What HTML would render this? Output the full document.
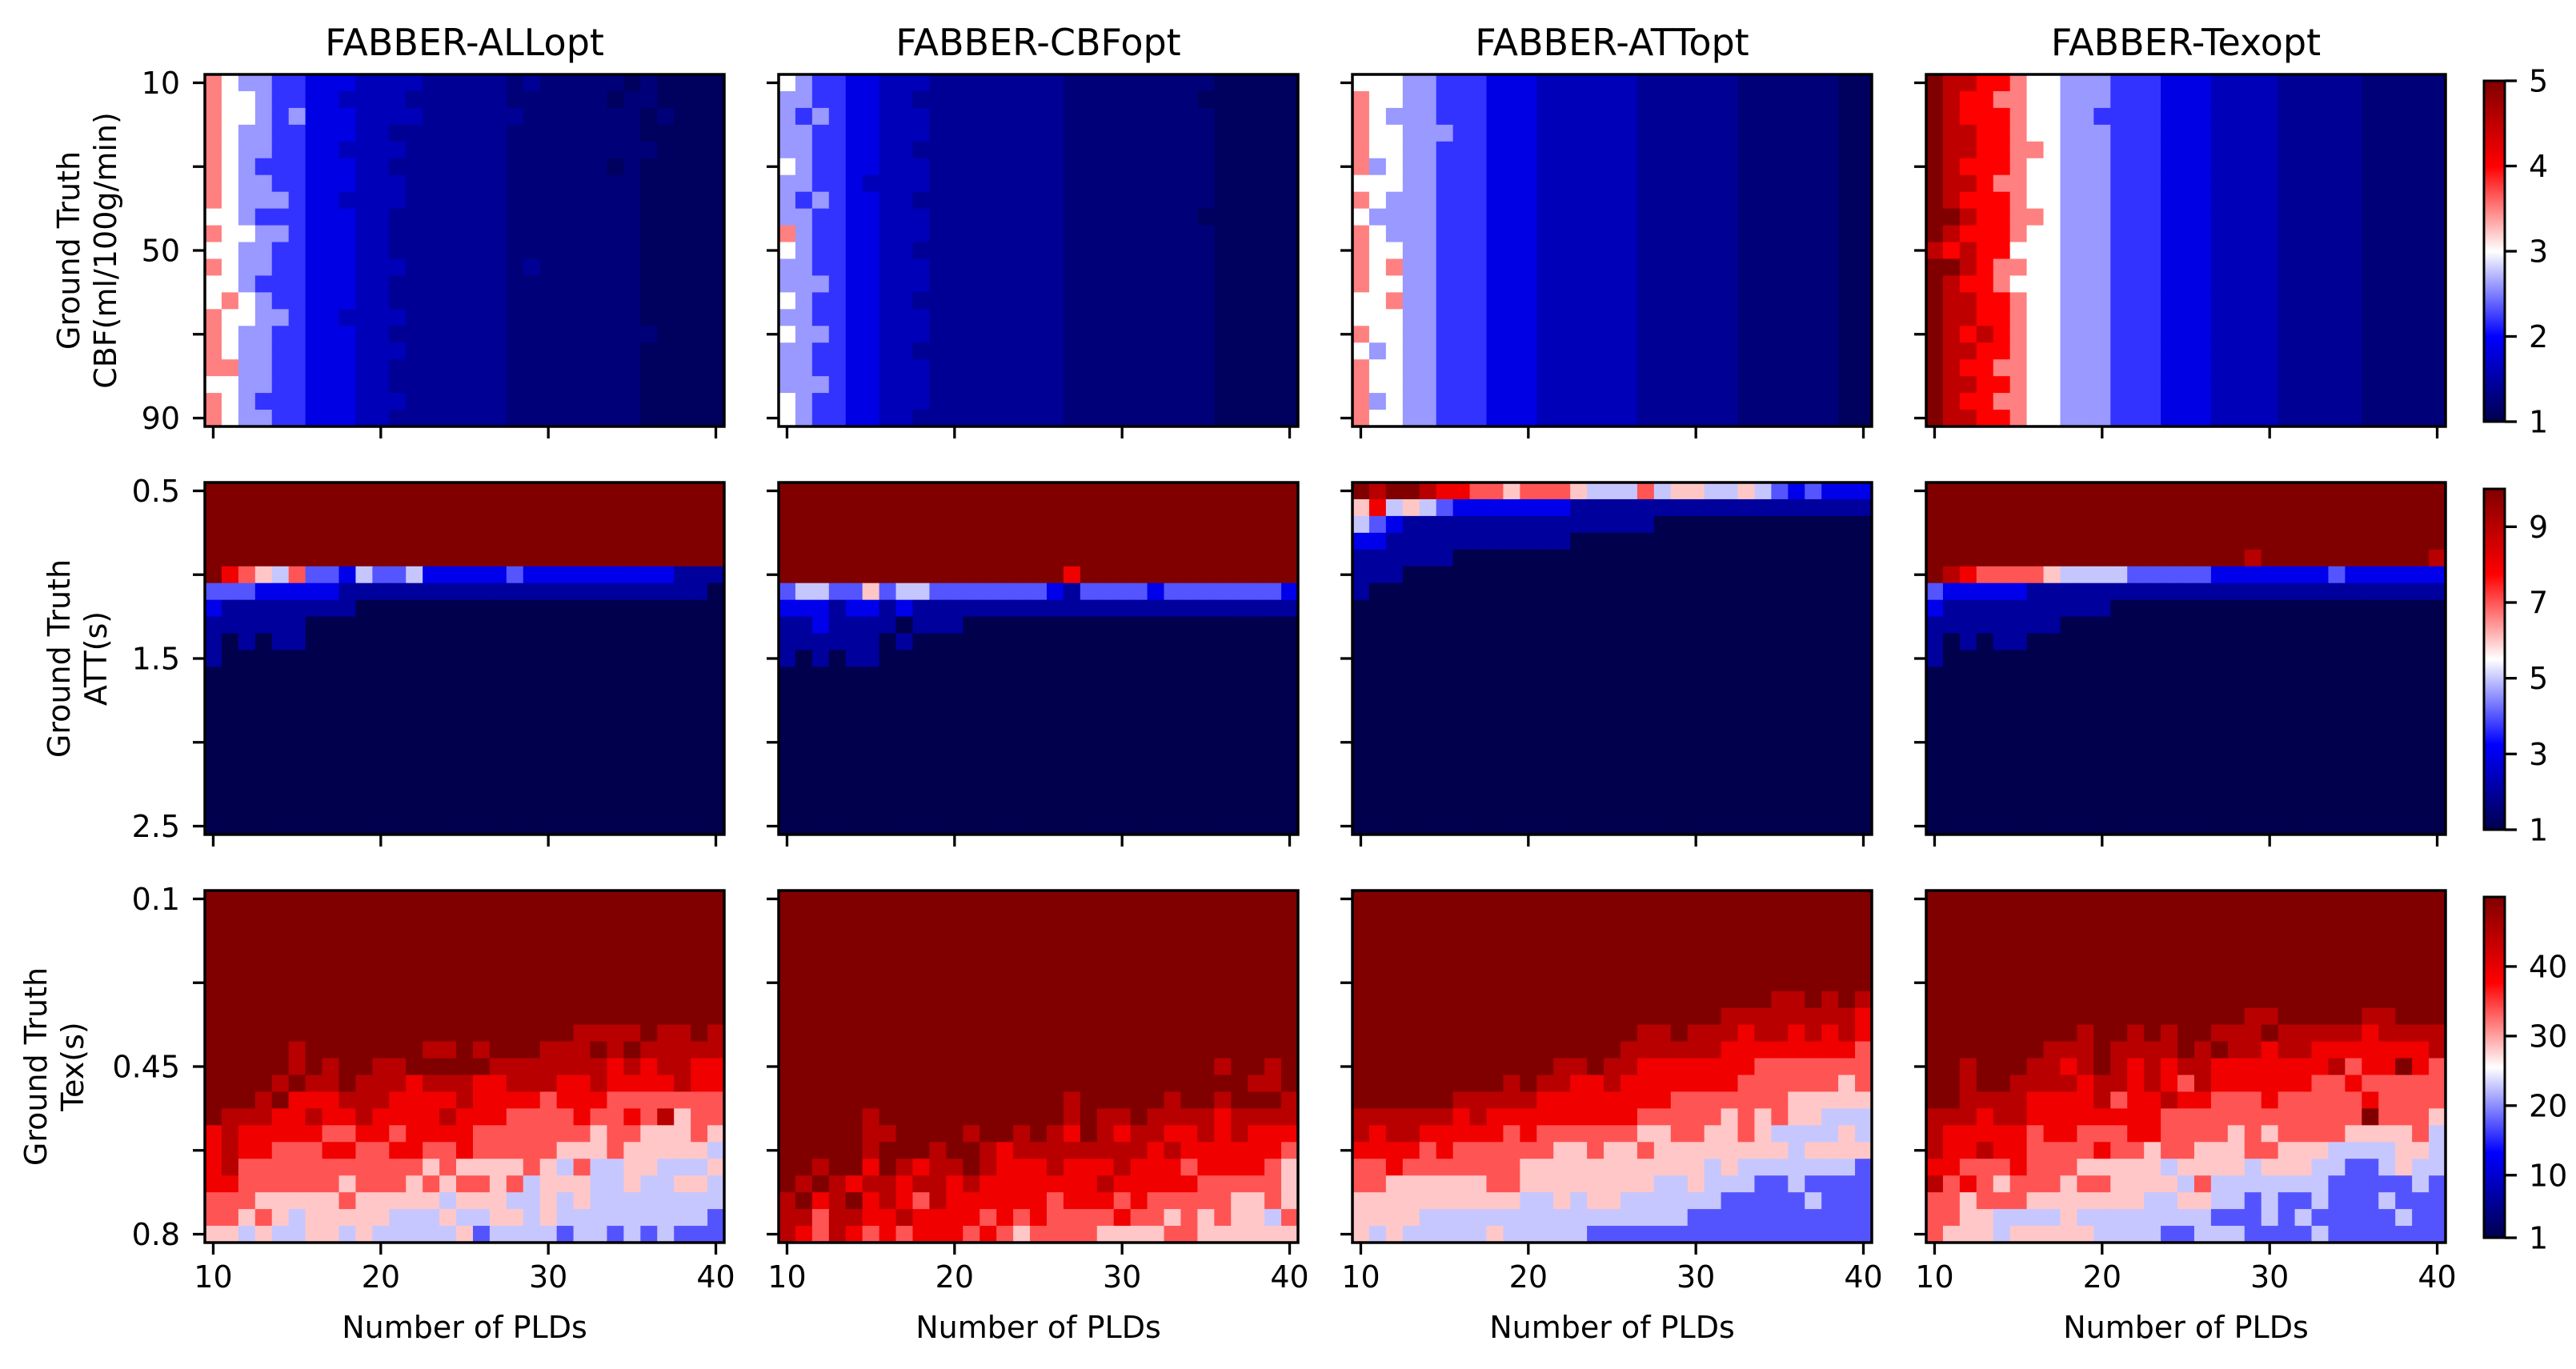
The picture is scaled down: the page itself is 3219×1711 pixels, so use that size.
<!DOCTYPE html>
<html><head><meta charset="utf-8">
<style>
html,body{margin:0;padding:0;background:#fff;}
svg{display:block;}
text{font-family:"DejaVu Sans","Liberation Sans",sans-serif;fill:#000;}
</style></head>
<body>
<svg id="fig" xmlns="http://www.w3.org/2000/svg" width="3219" height="1711" viewBox="0 0 3219 1711">
<defs>
<linearGradient id="seis" x1="0" y1="1" x2="0" y2="0">
<stop offset="0" stop-color="rgb(0,0,77)"/>
<stop offset="0.25" stop-color="rgb(0,0,255)"/>
<stop offset="0.5" stop-color="rgb(255,255,255)"/>
<stop offset="0.75" stop-color="rgb(255,0,0)"/>
<stop offset="1" stop-color="rgb(128,0,0)"/>
</linearGradient>
</defs>
<rect x="0" y="0" width="3219" height="1711" fill="#fff"/>
</svg>
<script>
// ---- data: each character is a code (base-36) into the row's level array ----
const pldValues = [10,11,12,13,14,15,16,17,18,19,20,21,22,23,24,25,26,27,28,29,30,31,32,33,34,35,36,37,38,39,40];
const xTicks = [10,20,30,40];
const methodNames = ["FABBER-ALLopt","FABBER-CBFopt","FABBER-ATTopt","FABBER-Texopt"];
const cbfRange = [1,5];
const attRange = [1,10];
const texRange = [1,50];
const cbfLevels = [1.1,1.25,1.4,1.6,1.85,2.2,2.6,3.0,3.5,4.0,4.5,5.0];
const attLevels = [1,2,3,4,5,6,7,8,9,10];
const texLevels = [1,6.4,11.9,17.3,22.8,28.2,33.7,39.1,44.6,50];
const cbfYTicks = [10,30,50,70,90];
const cbfYLabels = ["10","","50","","90"];
const attYTicks = [0.5,1.0,1.5,2.0,2.5];
const attYLabels = ["0.5","","1.5","","2.5"];
const texYTicks = [0.1,0.275,0.45,0.625,0.8];
const texYLabels = ["0.1","","0.45","","0.8"];
const cbfCbTicks = [1,2,3,4,5];
const attCbTicks = [1,3,5,7,9];
const texCbTicks = [1,10,20,30,40];

const cbfAll = [
"8766554443333222221211111010000","8776554433332222221111110110000","8776564443333222222111111101000",
"8766554443322222221111111100000","8766554433332222221111111110000","8765554443322222221111110100000",
"8766554443332222221111111100000","8766654433332222221111111100000","7765554443322222221111111100000",
"8776654443322222221111111100000","7766554443322222221111111100000","8766554443332222221211111100000",
"7765554443322222221111111100000","7876554443322222221111111100000","8776654433332222221111111100000",
"8766554443322222221111111110000","8766554443332222221111111100000","8866554443322222221111111100000",
"7766554443322222221111111100000","8765554443332222221111111100000","8766554443322222221111111100000"];
const cbfCbf = [
"7655443332222222211111111100000","6655443322222222211111111000000","6565443332222222211111111100000",
"6655443332222222211111111100000","6655443322222222211111111100000","7655443332222222211111111100000",
"6655433332222222211111111100000","6565443322222222211111111100000","6655443332222222211111111000000",
"8655443332222222211111111100000","7655443322222222211111111100000","6655443332222222211111111100000",
"6665443332222222211111111100000","7655443322222222211111111100000","6655443332222222211111111100000",
"7665443332222222211111111100000","6655443322222222211111111100000","6655443332222222211111111100000",
"6665443332222222211111111100000","7655443332222222211111111100000","7655443322222222211111111100000"];
const cbfAtt = [
"7776655544433333322222211111100","8776655544433333322222211111100","8766655544433333322222211111100",
"8776665544433333322222211111100","8776655544433333322222211111100","8676655544433333322222211111100",
"7776655544433333322222211111100","8766655544433333322222211111100","7666655544433333322222211111100",
"8766655544433333322222211111100","8776655544433333322222211111100","8786655544433333322222211111100",
"8776655544433333322222211111100","7786655544433333322222211111100","7776655544433333322222211111100",
"8776655544433333322222211111100","7676655544433333322222211111100","8776655544433333322222211111100",
"8776655544433333322222211111100","8676655544433333322222211111100","8776655544433333322222211111100"];
const cbfTex = [
"baa9987766655544433332222211111","ba99887766655544433332222211111","ba99987766555544433332222211111",
"baa9987766655544433332222211111","baa9988766655544433332222211111","ba99987766655544433332222211111",
"baa9887766655544433332222211111","ba99987766655544433332222211111","bba9988766655544433332222211111",
"ba99987766655544433332222211111","a9a9977766655544433332222211111","bba9887766655544433332222211111",
"ba99877766655544433332222211111","baa9987766655544433332222211111","baa9987766655544433332222211111",
"ba9a987766655544433332222211111","baa9987766655544433332222211111","ba99887766655544433332222211111",
"baa9987766655544433332222211111","ba99887766655544433332222211111","baa9987766655544433332222211111"];

const attAll = [
"9999999999999999999999999999999","9999999999999999999999999999999","9999999999999999999999999999999",
"9999999999999999999999999999999","9999999999999999999999999999999","9765463324334222223222222222111",
"3332222211111111111111111111110","2111111110000000000000000000000","1111110000000000000000000000000",
"1010110000000000000000000000000","1000000000000000000000000000000","0000000000000000000000000000000",
"0000000000000000000000000000000","0000000000000000000000000000000","0000000000000000000000000000000",
"0000000000000000000000000000000","0000000000000000000000000000000","0000000000000000000000000000000",
"0000000000000000000000000000000","0000000000000000000000000000000","0000000000000000000000000000000"];
const attCbf = [
"9999999999999999999999999999999","9999999999999999999999999999999","9999999999999999999999999999999",
"9999999999999999999999999999999","9999999999999999999999999999999","9999999999999999979999999999999",
"3443353443333333213333233333332","2221221211111111111111111111111","1121111011100000000000000000000",
"1111110100000000000000000000000","1010110000000000000000000000000","0000000000000000000000000000000",
"0000000000000000000000000000000","0000000000000000000000000000000","0000000000000000000000000000000",
"0000000000000000000000000000000","0000000000000000000000000000000","0000000000000000000000000000000",
"0000000000000000000000000000000","0000000000000000000000000000000","0000000000000000000000000000000"];
const attAtt = [
"9899877665666544464554454323222","5745432222222111111111111111111","4321111111111111110000000000000",
"2211111111111000000000000000000","1111110000000000000000000000000","1110000000000000000000000000000",
"1000000000000000000000000000000","0000000000000000000000000000000","0000000000000000000000000000000",
"0000000000000000000000000000000","0000000000000000000000000000000","0000000000000000000000000000000",
"0000000000000000000000000000000","0000000000000000000000000000000","0000000000000000000000000000000",
"0000000000000000000000000000000","0000000000000000000000000000000","0000000000000000000000000000000",
"0000000000000000000000000000000","0000000000000000000000000000000","0000000000000000000000000000000"];
const attTex = [
"9999999999999999999999999999999","9999999999999999999999999999999","9999999999999999999999999999999",
"9999999999999999999999999999999","9999999999999999999899999999998","9876666544443333322222223222222",
"3222221111111111111111111111111","2111111111100000000000000000000","1111111100000000000000000000000",
"1010110000000000000000000000000","1000000000000000000000000000000","0000000000000000000000000000000",
"0000000000000000000000000000000","0000000000000000000000000000000","0000000000000000000000000000000",
"0000000000000000000000000000000","0000000000000000000000000000000","0000000000000000000000000000000",
"0000000000000000000000000000000","0000000000000000000000000000000","0000000000000000000000000000000"];

const texAll = [
"9999999999999999999999999999999","9999999999999999999999999999999","9999999999999999999999999999999",
"9999999999999999999999999999999","9999999999999999999999999999999","9999999999999999999999999999999",
"9999999999999999999999999999999","9999999999999999999999999999999","9999999999999999999999888898898",
"9999989999999889899988898988888","9999989899889999988888887878877","9999898898887888778887787777877",
"9998977788877778777767776666666","9888778778777787776666766768566","7877777667767777666666656655565",
"7877666776677667666665556555554","7866666666666565555654644554445","7766666656665656656455544544554",
"6665555565555545554454544444444","6656545555544454455454444444443","5545445545444445344443443434333"];
const texCbf = [
"9999999999999999999999999999999","9999999999999999999999999999999","9999999999999999999999999999999",
"9999999999999999999999999999999","9999999999999999999999999999999","9999999999999999999999999999999",
"9999999999999999999999999999999","9999999999999999999999999999999","9999999999999999999999999999999",
"9999999999999999999999999999999","9999999999999999999999999989989","9999999999999999999999999999889",
"9999999999999999989999989989998","9999989999999999989889888878888","9999988999989989879878877878777",
"9999989998998788888888787777776","9989979878898777877787776777765","9898788788787777777877777666665",
"8978978768777777677767666665565","8868877877776767666676656565546","8768767677767656666555566555555"];
const texAtt = [
"9999999999999999999999999999999","9999999999999999999999999999999","9999999999999999999999999999999",
"9999999999999999999999999999999","9999999999999999999999999999999","9999999999999999999999999999999",
"9999999999999999999999999889898","9999999999999999999999888888887","9999999999999999988988878878787",
"9999999999999999888888777777776","9999999999998898877777776666666","9999999998988778777777766666656",
"9999998888877777777666666655555","8888887877777777766666565655444","8788777776766666655665565444454",
"7777676666665565565555555545555","6676666666555555555554544444443","6655555566555555554454443343333",
"5555555555445455444444333334333","5555444444444444444433333333333","5454444454444433333333333333333"];
const texTex = [
"9999999999999999999999999999999","9999999999999999999999999999999","9999999999999999999999999999999",
"9999999999999999999999999999999","9999999999999999999999999999999","9999999999999999999999999999999",
"9999999999999999999999999999999","9999999999999999999889999988999","9999999998998989988898888878888",
"9999999888988889898878877777778","9989998878987878877777778677976","9989988887887876877777766766666",
"9988887777867787766676666676666","8887887777777766666666666696665","8777776776667766665656666555564",
"8778776666766566555665554444554","7766676665555545555455544334544","8676566656655554644444443333343",
"6656665555555445544343343334333","6655444454444444433343433333433","6555455555444433444333343333333"];

// ---- layout ----
const SVGNS = "http://www.w3.org/2000/svg";
const svg = document.getElementById("fig");
const panelLefts = [256, 973, 1690, 2407];
const panelTops = [93, 603, 1113];
const PW = 649, PH = 440;
const NC = 31, NR = 21;
const CBX = 3104, CBW = 26, CBH = 426;
const cbTops = [101, 611, 1121];

function seismic(f){
  f = Math.max(0, Math.min(1, f));
  let r,g,b;
  if (f < 0.25){ r=0; g=0; b=0.3+0.7*f/0.25; }
  else if (f < 0.5){ const t=(f-0.25)/0.25; r=t; g=t; b=1; }
  else if (f < 0.75){ const t=(f-0.5)/0.25; r=1; g=1-t; b=1-t; }
  else { const t=(f-0.75)/0.25; r=1-0.5*t; g=0; b=0; }
  return "rgb("+Math.round(r*255)+","+Math.round(g*255)+","+Math.round(b*255)+")";
}
function mk(tag, attrs){
  const e = document.createElementNS(SVGNS, tag);
  for (const k in attrs) e.setAttribute(k, attrs[k]);
  return e;
}
function fixRow(s){ while (s.length < NC) s += s[s.length-1]; return s.slice(0, NC); }

const rowSpecs = [
  {grids:[cbfAll,cbfCbf,cbfAtt,cbfTex], levels:cbfLevels, range:cbfRange, yTicks:cbfYTicks, yLabels:cbfYLabels, y0:10, y1:90, lab2:"CBF(ml/100g/min)", lx1:86, lx2:132, cbTicks:cbfCbTicks, key:"cbf"},
  {grids:[attAll,attCbf,attAtt,attTex], levels:attLevels, range:attRange, yTicks:attYTicks, yLabels:attYLabels, y0:0.5, y1:2.5, lab2:"ATT(s)", lx1:74, lx2:120, cbTicks:attCbTicks, key:"att"},
  {grids:[texAll,texCbf,texAtt,texTex], levels:texLevels, range:texRange, yTicks:texYTicks, yLabels:texYLabels, y0:0.1, y1:0.8, lab2:"Tex(s)", lx1:45, lx2:91, cbTicks:texCbTicks, key:"tex"}
];

const cw = PW / NC, ch = PH / NR;
function xPos(left, pld){ return left + (pld - pldValues[0] + 0.5) * cw; }
function yPos(top, spec, v){ return top + ((v - spec.y0)/(spec.y1 - spec.y0)*(NR-1) + 0.5) * ch; }

rowSpecs.forEach((spec, ri) => {
  const top = panelTops[ri];
  const [vmin, vmax] = spec.range;
  spec.grids.forEach((grid, ci) => {
    const left = panelLefts[ci];
    const g = mk("g", {});
    
    
    svg.appendChild(g);
    grid.forEach((rowStr, r) => {
      const s = fixRow(rowStr);
      for (let c = 0; c < NC; c++){
        const code = Math.min(parseInt(s[c], 36), spec.levels.length - 1);
        const value = spec.levels[code];
        const f = (value - vmin) / (vmax - vmin);
        const rect = mk("rect", {x:(left + c*cw).toFixed(2), y:(top + r*ch).toFixed(2), width:(cw+0.6).toFixed(2), height:(ch+0.6).toFixed(2), fill:seismic(f)});
        
        
        g.appendChild(rect);
      }
    });
    spec.yTicks.forEach((tv, ti) => {
      const y = yPos(top, spec, tv);
      const tk = mk("line", {x1:left-15, x2:left, y1:y, y2:y, stroke:"#000", "stroke-width":3.3});
      
      
      svg.appendChild(tk);
      if (ci === 0 && spec.yLabels[ti]){
        const t = mk("text", {x:left-31, y:y+13.5, "text-anchor":"end", "font-size":38});
        t.textContent = spec.yLabels[ti];
        
        
        svg.appendChild(t);
      }
    });
    xTicks.forEach(tv => {
      const x = xPos(left, tv);
      const tk = mk("line", {x1:x, x2:x, y1:top+PH, y2:top+PH+15, stroke:"#000", "stroke-width":3.3});
      
      
      svg.appendChild(tk);
      if (ri === 2){
        const t = mk("text", {x:x, y:top+PH+56, "text-anchor":"middle", "font-size":38});
        t.textContent = String(tv);
        
        
        svg.appendChild(t);
      }
    });
    const fr = mk("rect", {x:left, y:top, width:PW, height:PH, fill:"none", stroke:"#000", "stroke-width":3.5});
    
    
    svg.appendChild(fr);
    if (ri === 0){
      const t = mk("text", {x:left+PW/2, y:69, "text-anchor":"middle", "font-size":46});
      t.textContent = methodNames[ci];
      
      
      svg.appendChild(t);
    }
    if (ri === 2){
      const t = mk("text", {x:left+PW/2, y:1672, "text-anchor":"middle", "font-size":38});
      t.textContent = "Number of PLDs";
      
      
      svg.appendChild(t);
    }
  });
  const cy = top + PH/2;
  const l1 = mk("text", {x:spec.lx1, y:cy, "text-anchor":"middle", "font-size":38, transform:"rotate(-90 "+spec.lx1+" "+cy+")", "dominant-baseline":"central"});
  l1.textContent = "Ground Truth";
  
  
  svg.appendChild(l1);
  const l2 = mk("text", {x:spec.lx2, y:cy, "text-anchor":"middle", "font-size":38, transform:"rotate(-90 "+spec.lx2+" "+cy+")", "dominant-baseline":"central"});
  l2.textContent = spec.lab2;
  
  
  svg.appendChild(l2);
  const cbt = cbTops[ri];
  const cb = mk("rect", {x:CBX, y:cbt, width:CBW, height:CBH, fill:"url(#seis)", stroke:"#000", "stroke-width":3});
  
  
  svg.appendChild(cb);
  spec.cbTicks.forEach(tv => {
    const y = cbt + CBH - (tv - vmin)/(vmax - vmin) * CBH;
    const tk = mk("line", {x1:CBX+CBW, x2:CBX+CBW+15, y1:y, y2:y, stroke:"#000", "stroke-width":3.3});
    
    
    svg.appendChild(tk);
    const t = mk("text", {x:CBX+CBW+30, y:y+13.5, "text-anchor":"start", "font-size":38});
    t.textContent = String(tv);
    
    
    svg.appendChild(t);
  });
});
</script>
</body></html>
